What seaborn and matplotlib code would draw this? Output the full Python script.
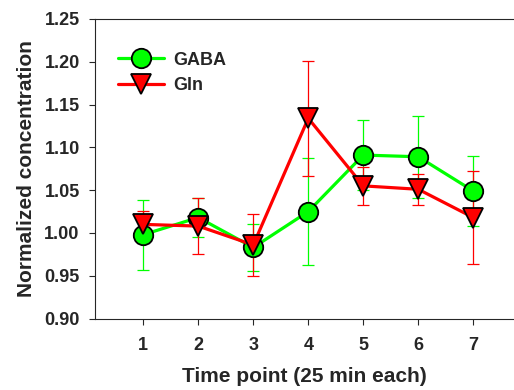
import matplotlib
matplotlib.use('Agg')
import matplotlib.pyplot as plt
import seaborn as sns
import pandas as pd

time_points = [1, 2, 3, 4, 5, 6, 7]
gaba_mean = [0.998, 1.018, 0.983, 1.025, 1.091, 1.089, 1.049]
gaba_err = [0.041, 0.023, 0.027, 0.063, 0.041, 0.048, 0.041]
gln_mean = [1.010, 1.008, 0.986, 1.134, 1.055, 1.051, 1.018]
gln_err = [0.016, 0.033, 0.036, 0.067, 0.022, 0.018, 0.054]

sns.set_style('ticks')
plt.rcParams['font.family'] = ['Liberation Sans', 'DejaVu Sans']
plt.rcParams['font.weight'] = 'bold'

df = pd.DataFrame({
    'time': time_points * 2,
    'value': gaba_mean + gln_mean,
    'series': ['GABA'] * 7 + ['Gln'] * 7,
})

fig = plt.figure(figsize=(5.14, 3.9), dpi=100)
ax = fig.add_axes([0.1848, 0.1833, 0.8152, 0.768])

green = '#00ff00'
red = '#ff0000'

ax.errorbar(time_points, gaba_mean, yerr=gaba_err, fmt='none', ecolor=green,
            elinewidth=0.9, capsize=4, capthick=0.9, zorder=2)
ax.errorbar(time_points, gln_mean, yerr=gln_err, fmt='none', ecolor=red,
            elinewidth=0.9, capsize=4, capthick=0.9, zorder=3)

sns.lineplot(data=df[df.series == 'GABA'], x='time', y='value', ax=ax,
             color=green, lw=2.3, marker='o', markersize=14,
             markeredgecolor='black', markeredgewidth=1.3, label='GABA', zorder=4)
sns.lineplot(data=df[df.series == 'Gln'], x='time', y='value', ax=ax,
             color=red, lw=2.3, marker='v', markersize=14,
             markeredgecolor='black', markeredgewidth=1.3, label='Gln', zorder=5)

ax.set_xlim(0.122, 7.74)
ax.set_ylim(0.90, 1.25)
ax.set_xticks(time_points)
ax.set_yticks([0.90, 0.95, 1.00, 1.05, 1.10, 1.15, 1.20, 1.25])
ax.set_yticklabels(['%.2f' % v for v in ax.get_yticks()])
ax.tick_params(labelsize=13, direction='out', length=4, width=0.8)
ax.tick_params(axis='x', pad=9)
ax.tick_params(axis='y', pad=7)
ax.spines['right'].set_visible(False)
for s in ['top', 'left', 'bottom']:
    ax.spines[s].set_linewidth(0.8)

ax.set_xlabel('Time point (25 min each)', fontsize=15, fontweight='bold', labelpad=10)
ax.set_ylabel('Normalized concentration', fontsize=15, fontweight='bold', labelpad=6)

leg = ax.legend(loc='upper left', bbox_to_anchor=(0.015, 0.945), frameon=False,
                fontsize=13, handlelength=2.6, handletextpad=0.5, labelspacing=0.45)

fig.savefig('out.png', dpi=100)
